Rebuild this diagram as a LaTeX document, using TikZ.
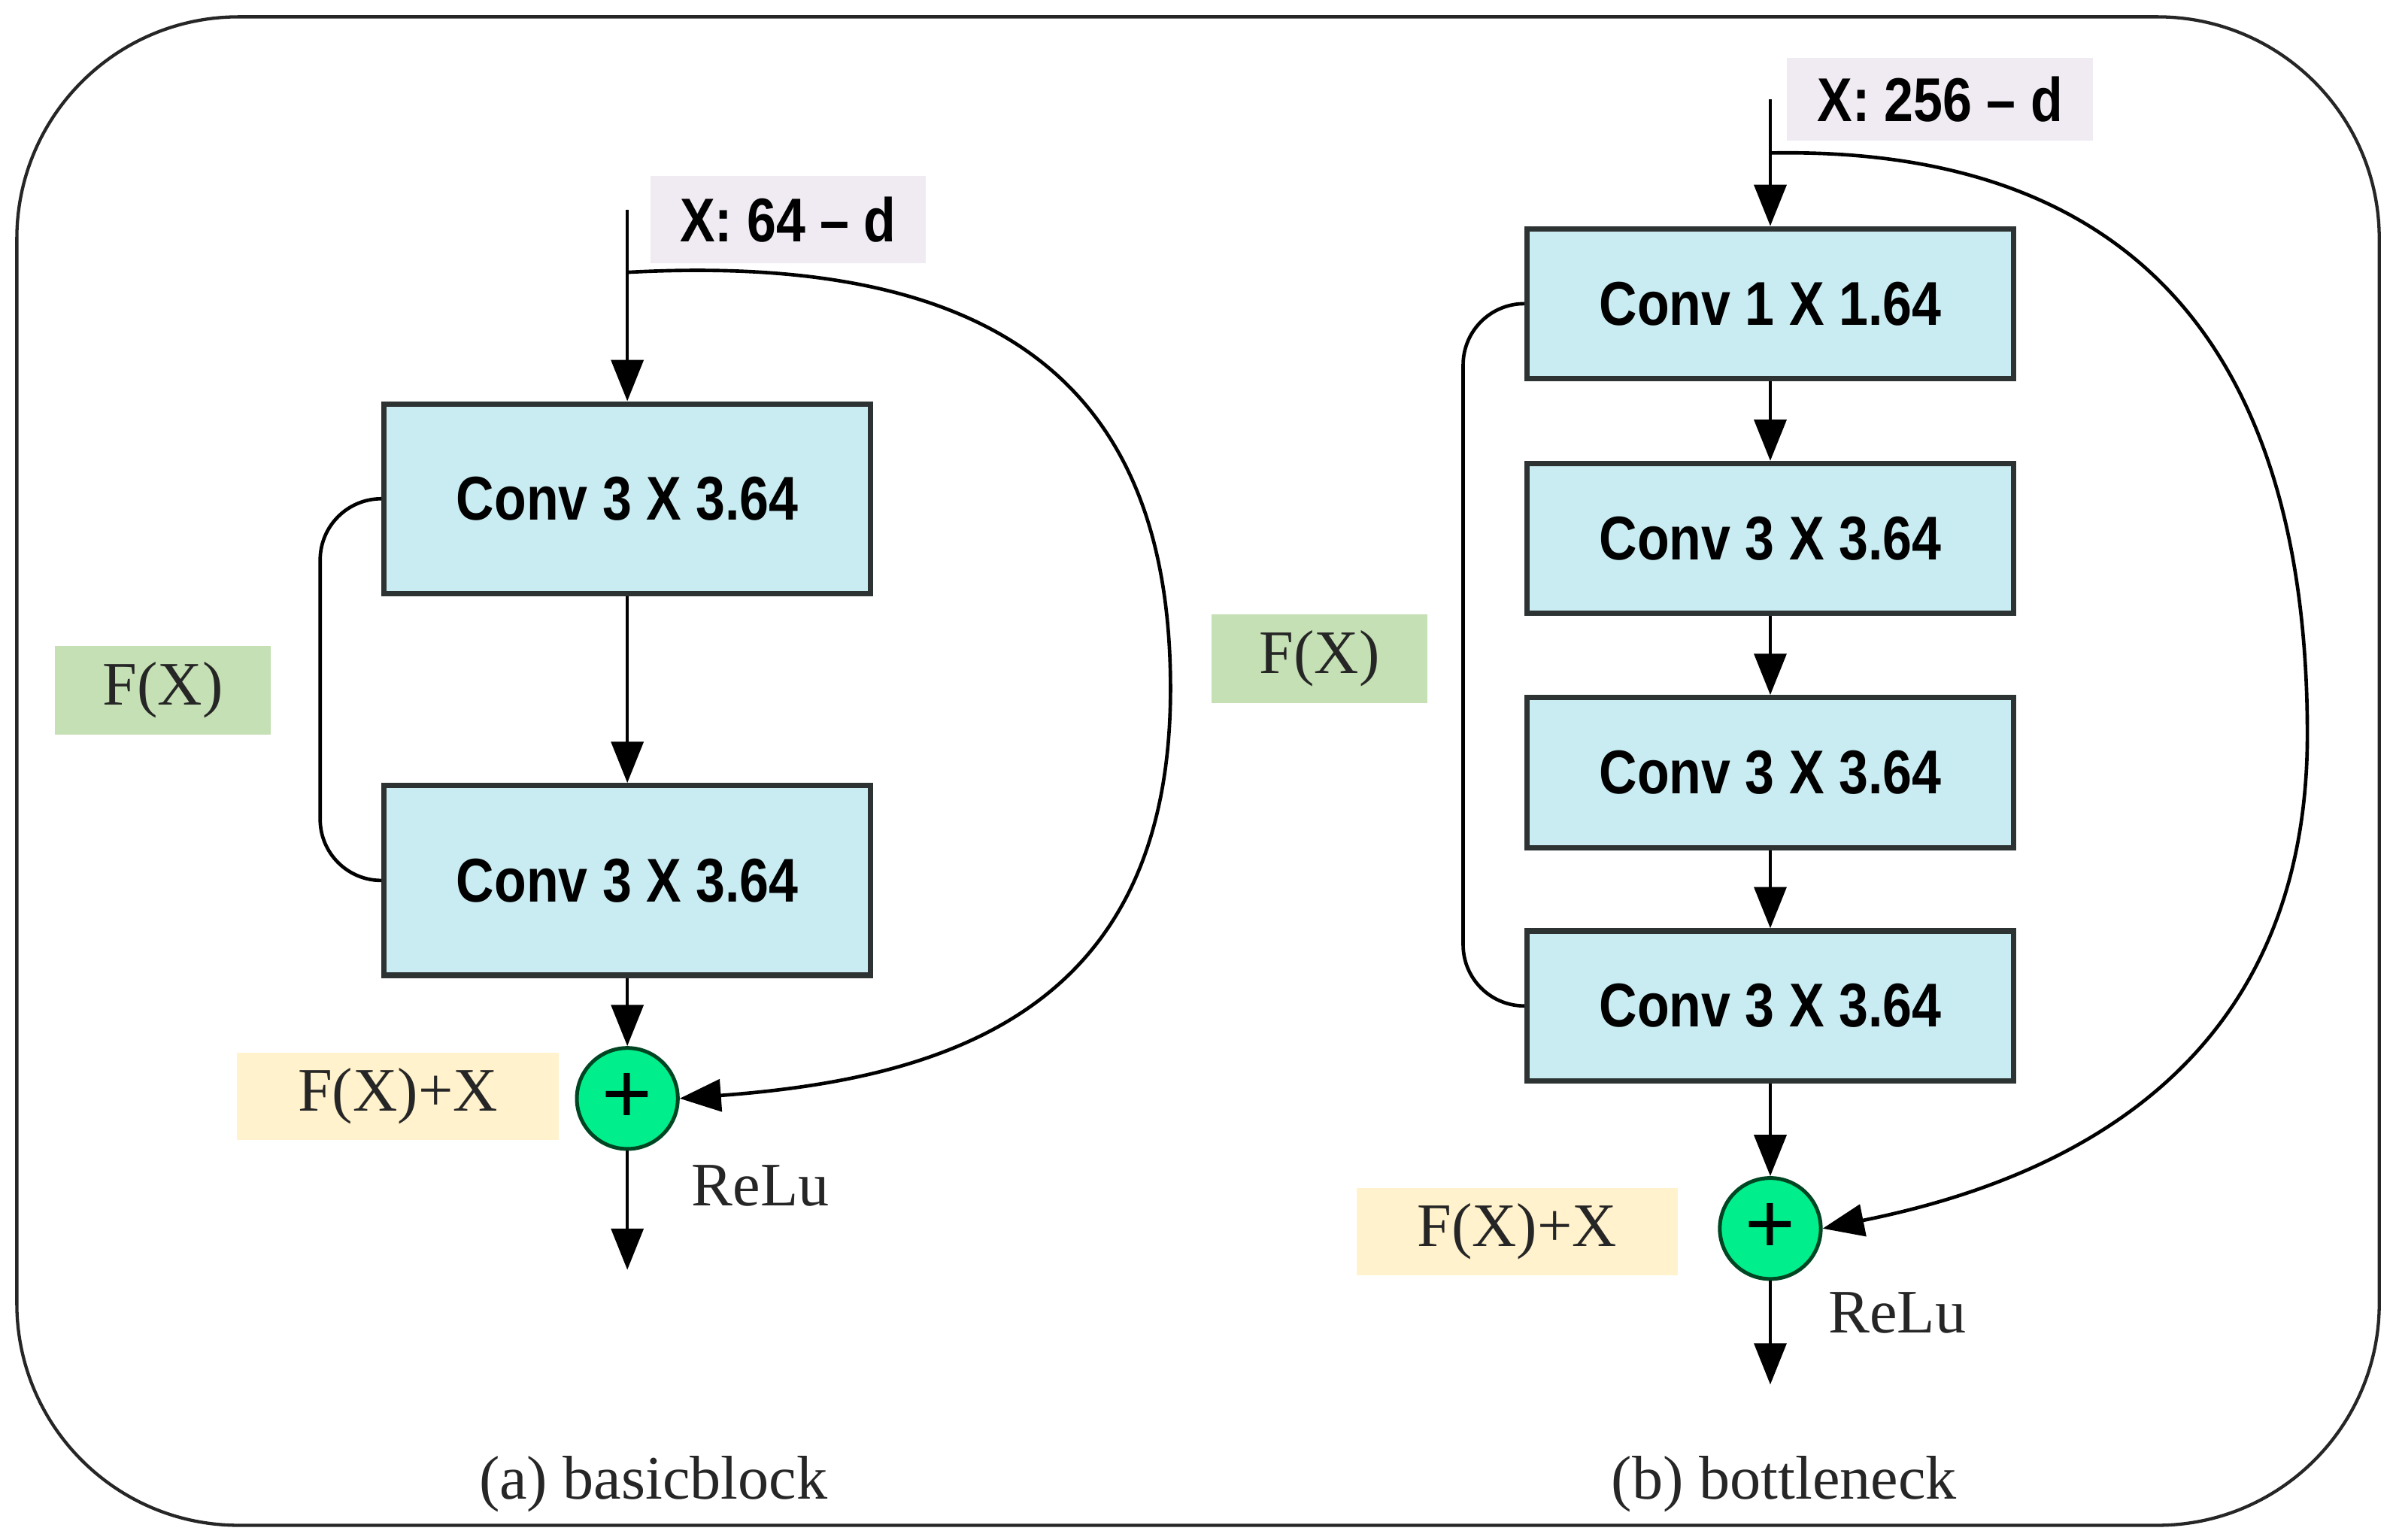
\documentclass[tikz,border=0pt]{standalone}
\usepackage{fontspec}
\setmainfont{Liberation Serif}
\newfontfamily\convfont[FakeStretch=0.85]{Liberation Sans}
\newfontfamily\plusfont{Liberation Sans}
\usetikzlibrary{arrows.meta}

\definecolor{convfill}{RGB}{200,236,242}
\definecolor{convedge}{RGB}{45,50,50}
\definecolor{dimfill}{RGB}{240,235,243}
\definecolor{fxfill}{RGB}{197,224,180}
\definecolor{fxxfill}{RGB}{255,242,204}
\definecolor{sumfill}{RGB}{0,238,140}
\definecolor{sumedge}{RGB}{0,70,35}

\tikzset{
  conv/.style={draw=convedge, line width=1pt, fill=convfill, minimum width=31.8mm,
    inner sep=0pt, font=\convfont\bfseries\fontsize{11.5}{13}\selectfont},
  dimlabel/.style={fill=dimfill, inner sep=0pt, font=\convfont\bfseries\fontsize{11.5}{13}\selectfont},
  fxlabel/.style={fill=fxfill, inner sep=0pt, minimum width=14.1mm, minimum height=5.8mm,
    font=\fontsize{11.5}{13}\selectfont, text=black!85},
  fxxlabel/.style={fill=fxxfill, inner sep=0pt, minimum width=21mm, minimum height=5.7mm,
    font=\fontsize{11.5}{13}\selectfont, text=black!85},
  txt/.style={inner sep=0pt, font=\fontsize{11.5}{13}\selectfont, text=black!85},
  sum/.style={circle, draw=sumedge, line width=0.7pt, fill=sumfill, minimum size=6.6mm,
    inner sep=0pt, font=\plusfont\fontsize{16}{16}\selectfont},
  conn/.style={line width=0.65pt, -{Triangle[length=2.7mm,width=2.1mm]}},
  wire/.style={line width=0.65pt},
}

\begin{document}
\begin{tikzpicture}[x=0.1mm,y=-0.1mm]
\useasboundingbox (0,0) rectangle (1564,1006.6);
\draw[line width=0.6pt, black!85, rounded corners=14.5mm] (11,11) rectangle (1555,997);

% (a) basicblock
\node[conv, minimum height=12.4mm] (a1) at (410,326) {Conv 3 X 3.64};
\node[conv, minimum height=12.4mm] (a2) at (410,575.5) {Conv 3 X 3.64};
\node[sum] (asum) at (410,718) {+};
\node[dimlabel, minimum width=18mm, minimum height=5.7mm] (ain) at (515,143.5) {X: 64 – d};
\node[fxlabel] (afx) at (106.5,451) {F(X)};
\node[fxxlabel] (afxx) at (260,716.5) {F(X)+X};
\node[txt] (arelu) at (497,775) {ReLu};
\node[txt] (acap) at (427,970) {(a) basicblock};
\coordinate (atop) at (410,137);
\coordinate (askip) at (410,178);
\coordinate (aout) at (410,830);

\draw[conn] (atop) -- (a1);
\draw[conn] (a1) -- (a2);
\draw[conn] (a2) -- (asum);
\draw[conn] (asum) -- (aout);
\draw[conn] (askip) .. controls (650,165) and (765,250) .. (765,450)
  .. controls (765,660) and (620,705) .. (asum.east);
\draw[wire, rounded corners=4mm] (a1.west) -- ++(-40,0) |- (a2.west);

% (b) bottleneck
\node[conv, minimum height=9.8mm] (b1) at (1157,198.5) {Conv 1 X 1.64};
\node[conv, minimum height=9.8mm] (b2) at (1157,352) {Conv 3 X 3.64};
\node[conv, minimum height=9.8mm] (b3) at (1157,505) {Conv 3 X 3.64};
\node[conv, minimum height=9.8mm] (b4) at (1157,657.5) {Conv 3 X 3.64};
\node[sum] (bsum) at (1157,803) {+};
\node[dimlabel, minimum width=20mm, minimum height=5.4mm] (bin) at (1268,65) {X: 256 – d};
\node[fxlabel] (bfx) at (862.5,430.5) {F(X)};
\node[fxxlabel] (bfxx) at (991.5,805) {F(X)+X};
\node[txt] (brelu) at (1240,858) {ReLu};
\node[txt] (bcap) at (1166,970) {(b) bottleneck};
\coordinate (btop) at (1157,65);
\coordinate (bskip) at (1157,100);
\coordinate (bout) at (1157,905);

\draw[conn] (btop) -- (b1);
\draw[conn] (b1) -- (b2);
\draw[conn] (b2) -- (b3);
\draw[conn] (b3) -- (b4);
\draw[conn] (b4) -- (bsum);
\draw[conn] (bsum) -- (bout);
\draw[conn] (bskip) .. controls (1420,95) and (1508,260) .. (1508,480)
  .. controls (1508,710) and (1330,775) .. (bsum.east);
\draw[wire, rounded corners=4mm] (b1.west) -- ++(-40,0) |- (b4.west);
\end{tikzpicture}
\end{document}
